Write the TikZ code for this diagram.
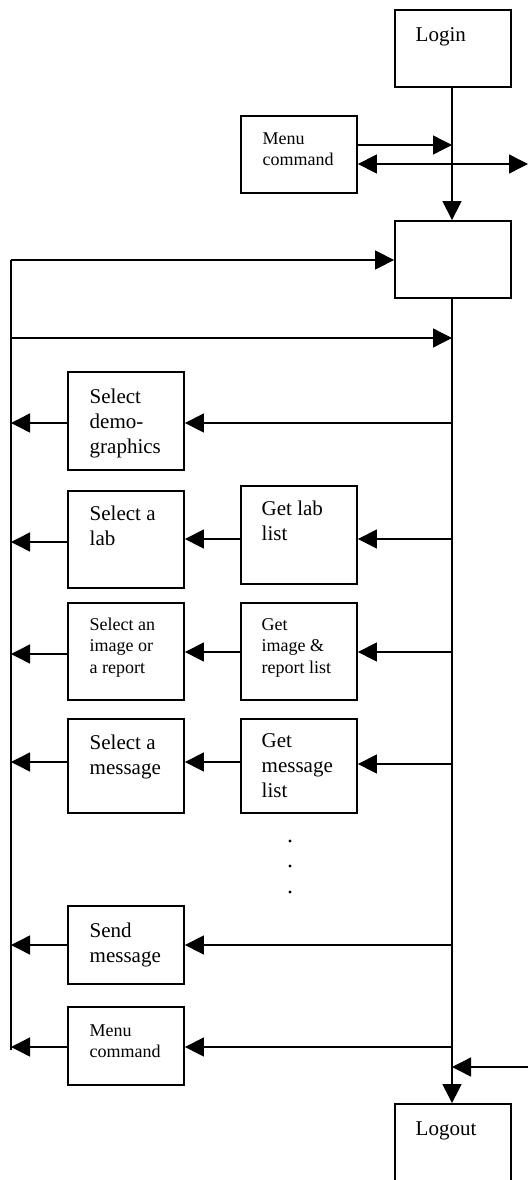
\documentclass[tikz,border=0pt]{standalone}
\usepackage{fontspec}
\setmainfont{Liberation Serif}
\usetikzlibrary{arrows.meta}
\tikzset{
  box/.style={draw,line width=1.8pt,minimum width=116,minimum height=#1,inner sep=0},
  big/.style={anchor=base west,align=left,inner sep=0,font=\fontsize{21}{25}\selectfont},
  small/.style={anchor=base west,align=left,inner sep=0,font=\fontsize{18}{21.5}\selectfont},
  arr/.style={->},
}
\begin{document}
\begin{tikzpicture}[x=1pt,y=-1pt,line width=1.4pt,>={Triangle[length=19pt,width=19pt]}]
   \clip (0,0) rectangle (528,1180);
   % boxes
   \node[box=77] (login)  at (453,48.5) {};
   \node[box=77] (menua)  at (299,154.5) {};
   \node[box=77] (hub)    at (453,259.5) {};
   \node[box=98] (demo)   at (126,421) {};
   \node[box=97] (lab)    at (126,539.5) {};
   \node[box=98] (getlab) at (299,535) {};
   \node[box=97] (img)    at (126,651.5) {};
   \node[box=97] (getimg) at (299,651.5) {};
   \node[box=94] (msg)    at (126,766) {};
   \node[box=94] (getmsg) at (299,766) {};
   \node[box=78] (send)   at (126,945) {};
   \node[box=78] (menub)  at (126,1046) {};
   \node[box=110] (logout) at (453,1159) {};
   % texts (placed at the baseline of their last line)
   \node[big]   (login-t)  at (415,42)     {Login};
   \node[small] (menua-t)  at (262,165.5)  {Menu\\command};
   \node[big]   (demo-t)   at (89,453)     {Select\\demo-\\graphics};
   \node[big]   (lab-t)    at (89,545)     {Select a\\lab};
   \node[big]   (getlab-t) at (261,540)    {Get lab\\list};
   \node[small] (img-t)    at (89,673)     {Select an\\image or\\a report};
   \node[small] (getimg-t) at (261,673)    {Get\\image \&\\report list};
   \node[big]   (msg-t)    at (89,774)     {Select a\\message};
   \node[big]   (getmsg-t) at (261,797)    {Get\\message\\list};
   \node[big]   (send-t)   at (89,962)     {Send\\message};
   \node[small] (menub-t)  at (89,1057.5)  {Menu\\command};
   \node[big]   (logout-t) at (415,1135)   {Logout};
   % bus points
   \coordinate (ba) at (452,145);
   \coordinate (bb) at (452,164);
   \coordinate (re) at (528,164);
   \coordinate (la) at (11,260);
   \coordinate (lb) at (11,338);
   \coordinate (bc) at (452,338);
   \coordinate (b1) at (452,423);
   \coordinate (b2) at (452,539);
   \coordinate (l2) at (11,542);
   \coordinate (b3) at (452,652);
   \coordinate (l3) at (11,654);
   \coordinate (b4) at (452,764);
   \coordinate (l4) at (11,762);
   \coordinate (b5) at (452,945);
   \coordinate (b6) at (452,1047);
   \coordinate (lz) at (11,1050);
   \coordinate (rz) at (528,1067);
   \coordinate (bz) at (452,1067);
   % main line
   \draw[arr] (login.south -| ba) -- (hub.north -| ba);
   \draw[arr] (hub.south -| ba) -- (logout.north -| ba);
   \draw (la) -- (lz);
   \draw[arr] (menua.east |- ba) -- (ba);
   \draw[<->] (menua.east |- bb) -- (re);
   \draw[arr] (la) -- (la -| hub.west);
   \draw[arr] (lb) -- (bc);
   \draw[arr] (rz) -- (bz);
   % rows
   \draw[arr] (b1) -- (b1 -| demo.east);
   \draw[arr] (b1 -| demo.west) -- (b1 -| la);
   \draw[arr] (b2) -- (b2 -| getlab.east);
   \draw[arr] (b2 -| getlab.west) -- (b2 -| lab.east);
   \draw[arr] (l2 -| lab.west) -- (l2);
   \draw[arr] (b3) -- (b3 -| getimg.east);
   \draw[arr] (b3 -| getimg.west) -- (b3 -| img.east);
   \draw[arr] (l3 -| img.west) -- (l3);
   \draw[arr] (b4) -- (b4 -| getmsg.east);
   \draw[arr] (l4 -| getmsg.west) -- (l4 -| msg.east);
   \draw[arr] (l4 -| msg.west) -- (l4);
   \draw[arr] (b5) -- (b5 -| send.east);
   \draw[arr] (b5 -| send.west) -- (b5 -| la);
   \draw[arr] (b6) -- (b6 -| menub.east);
   \draw[arr] (b6 -| menub.west) -- (b6 -| la);
   % more rows
   \foreach \y in {841,866,892} \fill (290,\y) circle(1.6);
\end{tikzpicture}
\end{document}
